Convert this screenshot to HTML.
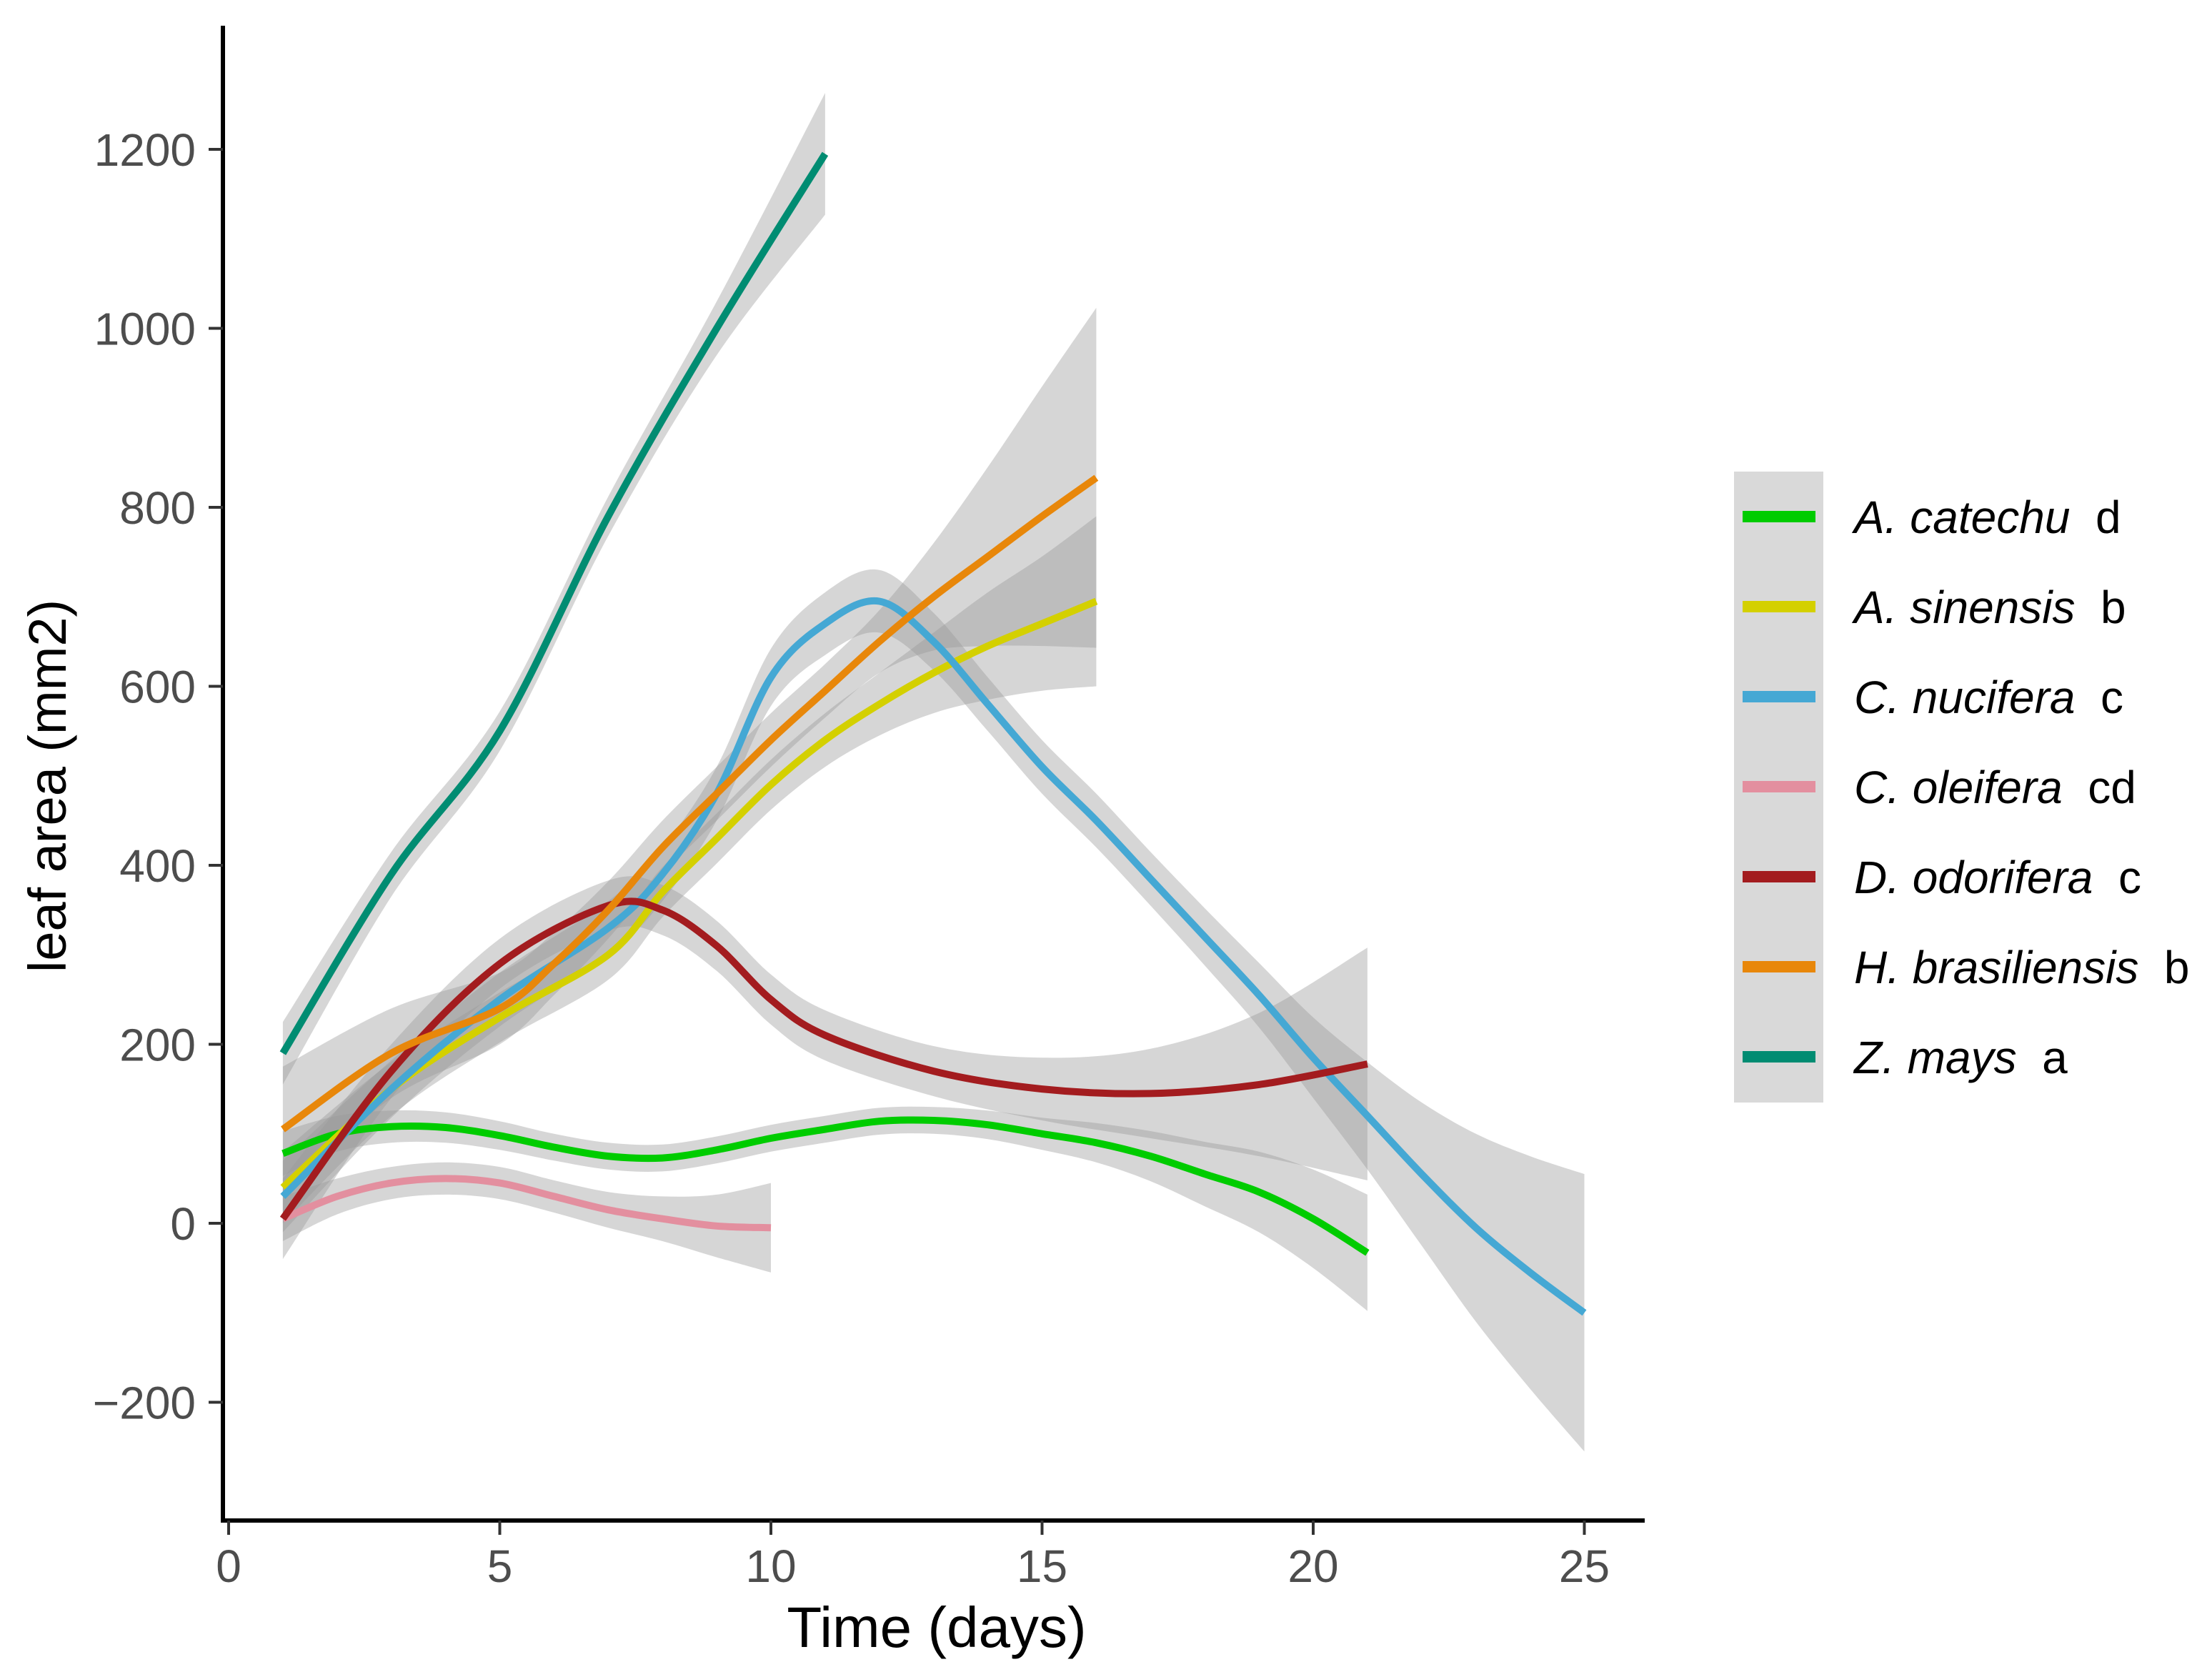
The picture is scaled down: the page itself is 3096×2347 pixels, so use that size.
<!DOCTYPE html>
<html><head><meta charset="utf-8"><style>
html,body{margin:0;padding:0;background:#fff}
svg{display:block}
text{font-family:"Liberation Sans",sans-serif}
</style></head><body>
<svg id="chart" width="3096" height="2347" viewBox="0 0 3096 2347" xmlns="http://www.w3.org/2000/svg">
<g id="ribbons"></g>
<g id="lines"></g>
<g id="axes"></g>
<g id="legend"></g>
</svg>
<script>
const xTicks=[0,5,10,15,20,25];
const yTicks=[-200,0,200,400,600,800,1000,1200];
const speciesNames=["A. catechu","A. sinensis","C. nucifera","C. oleifera","D. odorifera","H. brasiliensis","Z. mays"];
const speciesLetters=["d","b","c","cd","c","b","a"];
const speciesColors=["#00cc00","#d4d000","#45a8d4","#e38f9f","#a31c1f","#e8870a","#008c72"];
const catechuDays=[1,2,3,4,5,6,7,8,9,10,11,12,13,14,15,16,17,18,19,20,21];
const catechuVals=[78,100,108,107,98,85,75,73,82,95,105,114,115,110,100,90,75,55,35,5,-33];
const catechuSE=[25,20,18,17,16,15,15,15,15,15,15,15,15,16,18,22,28,36,45,55,65];
const sinensisDays=[1,3,5,7,8,9,10,11,12,13,14,15,16];
const sinensisVals=[40,150,230,300,370,430,490,540,580,615,645,670,695];
const sinensisSE=[40,30,28,28,28,28,28,30,35,45,60,75,95];
const nuciferaDays=[1,3,5,7,8,9,10,11,12,13,14,15,16,17,18,19,20,21,22,23,24,25];
const nuciferaVals=[30,150,250,330,390,480,610,670,695,650,580,510,450,385,320,255,185,120,55,-5,-55,-100];
const nuciferaSE=[40,32,30,30,30,30,32,35,35,32,30,30,30,30,32,36,45,60,80,105,130,155];
const oleiferaDays=[1,2,3,4,5,6,7,8,9,10];
const oleiferaVals=[5,30,45,50,45,30,15,5,-3,-5];
const oleiferaSE=[25,20,18,18,18,18,20,25,35,50];
const odoriferaDays=[1,3,5,7,8,9,10,11,13,15,17,19,21];
const odoriferaVals=[5,170,290,355,350,310,250,210,170,150,145,155,178];
const odoriferaSE=[45,30,28,28,28,28,28,28,28,35,50,80,130];
const brasilDays=[1,3,5,6,7,8,9,10,11,12,13,14,15,16];
const brasilVals=[105,190,240,290,350,420,480,540,595,650,700,745,790,833];
const brasilSE=[70,50,40,35,32,30,30,30,30,35,60,100,145,190];
const maysDays=[1,3,5,7,9,11];
const maysVals=[190,390,550,790,1000,1195];
const maysSE=[35,25,22,22,30,68];
const seriesDays=[catechuDays,sinensisDays,nuciferaDays,oleiferaDays,odoriferaDays,brasilDays,maysDays];
const seriesVals=[catechuVals,sinensisVals,nuciferaVals,oleiferaVals,odoriferaVals,brasilVals,maysVals];
const seriesSE=[catechuSE,sinensisSE,nuciferaSE,oleiferaSE,odoriferaSE,brasilSE,maysSE];

const NS="http://www.w3.org/2000/svg";
const X0=320, XS=75.9, Y0=1712, YS=1.2525;
function xScale(d){return X0+XS*d;}
function yScale(v){return Y0-YS*v;}
function mk(tag,attrs,parent){const e=document.createElementNS(NS,tag);for(const k in attrs)e.setAttribute(k,attrs[k]);parent.appendChild(e);return e;}
function smooth(pts){
  let d="M"+pts[0][0].toFixed(1)+","+pts[0][1].toFixed(1);
  for(let i=0;i<pts.length-1;i++){
    const p0=pts[Math.max(0,i-1)],p1=pts[i],p2=pts[i+1],p3=pts[Math.min(pts.length-1,i+2)];
    const c1=[p1[0]+(p2[0]-p0[0])/6,p1[1]+(p2[1]-p0[1])/6];
    const c2=[p2[0]-(p3[0]-p1[0])/6,p2[1]-(p3[1]-p1[1])/6];
    d+=" C"+c1[0].toFixed(1)+","+c1[1].toFixed(1)+" "+c2[0].toFixed(1)+","+c2[1].toFixed(1)+" "+p2[0].toFixed(1)+","+p2[1].toFixed(1);
  }
  return d;
}
const ribbons=document.getElementById('ribbons');
const lines=document.getElementById('lines');
for(let s=0;s<seriesDays.length;s++){
  const ds=seriesDays[s],vs=seriesVals[s],se=seriesSE[s];
  const up=ds.map((d,i)=>[xScale(d),yScale(vs[i]+se[i])]);
  const lo=ds.map((d,i)=>[xScale(d),yScale(vs[i]-se[i])]).reverse();
  const lop=smooth(lo).replace(/^M/,"L");
  const r=mk('path',{d:smooth(up)+" "+lop+" Z",fill:"#999999","fill-opacity":"0.4"},ribbons);
  
  
}
for(let s=0;s<seriesDays.length;s++){
  const ds=seriesDays[s],vs=seriesVals[s];
  const pts=ds.map((d,i)=>[xScale(d),yScale(vs[i])]);
  const l=mk('path',{d:smooth(pts),fill:"none",stroke:speciesColors[s],"stroke-width":"10","stroke-linejoin":"round"},lines);
  
  
}
const axes=document.getElementById('axes');
const ya=mk('line',{x1:312,y1:36,x2:312,y2:2131,stroke:"#000","stroke-width":"6"},axes);


const xa=mk('line',{x1:309,y1:2128,x2:2302,y2:2128,stroke:"#000","stroke-width":"6"},axes);


for(const t of yTicks){
  const y=yScale(t);
  const tk=mk('line',{x1:292,y1:y,x2:312,y2:y,stroke:"#333","stroke-width":"4"},axes);
  
  
  const tl=mk('text',{x:274,y:y+23,"text-anchor":"end","font-size":"64",fill:"#4d4d4d"},axes);
  tl.textContent=t<0?"\u2212"+(-t):String(t);
  
  
}
for(const t of xTicks){
  const x=xScale(t);
  const tk=mk('line',{x1:x,y1:2128,x2:x,y2:2148,stroke:"#333","stroke-width":"4"},axes);
  
  
  const tl=mk('text',{x:x,y:2214,"text-anchor":"middle","font-size":"64",fill:"#4d4d4d"},axes);
  tl.textContent=String(t);
  
  
}
const xt=mk('text',{x:1311,y:2305,"text-anchor":"middle","font-size":"80",fill:"#000"},axes);
xt.textContent="Time (days)";


const yt=mk('text',{x:0,y:0,"text-anchor":"middle","font-size":"74",fill:"#000",transform:"translate(92,1100) rotate(-90)"},axes);
yt.textContent="leaf area (mm2)";


const legend=document.getElementById('legend');
const lb=mk('rect',{x:2427,y:660,width:125,height:883,fill:"#d9d9d9"},legend);


for(let s=0;s<speciesNames.length;s++){
  const cy=723+126*s;
  const g=mk('g',{},legend);
  
  
  mk('line',{x1:2439,y1:cy,x2:2541,y2:cy,stroke:speciesColors[s],"stroke-width":"16"},g);
  const t=mk('text',{x:2595,y:cy+23,"font-size":"64",fill:"#000"},g);
  const it=mk('tspan',{"font-style":"italic"},t);
  it.textContent=speciesNames[s];
  const lt=mk('tspan',{},t);
  lt.textContent="\u00a0\u00a0"+speciesLetters[s];
}
</script>
</body></html>
